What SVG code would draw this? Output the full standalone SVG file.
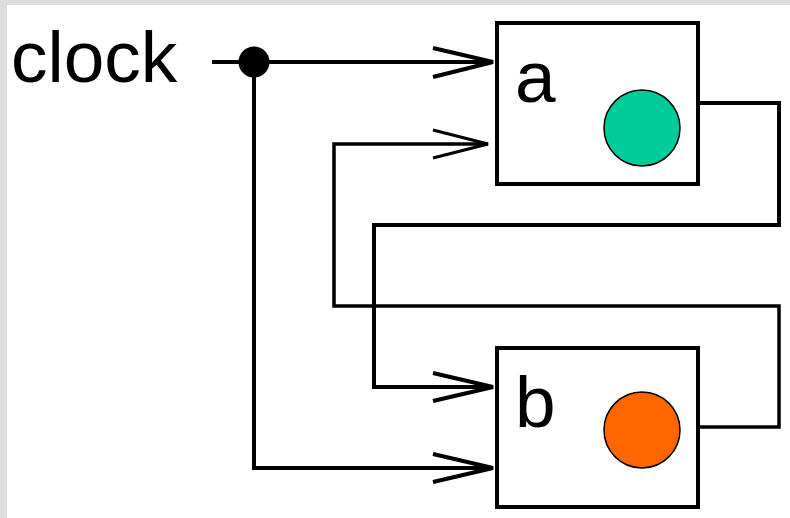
<svg xmlns="http://www.w3.org/2000/svg" width="790" height="518" viewBox="0 0 790 518">
<style>
.bg{fill:#dddddd}
.box{fill:#ffffff;stroke:#000;stroke-width:4}
.lbl{font-family:"Liberation Sans",Arial,sans-serif;font-size:73px;fill:#000}
.wire{fill:none;stroke:#000;stroke-width:4;stroke-linejoin:miter}
.arr{fill:none;stroke:#000;stroke-width:4;stroke-linecap:butt}
.arrthin{fill:none;stroke:#000;stroke-width:3;stroke-linecap:butt}
.state{stroke:#000;stroke-width:1.5}
</style>
<rect class="bg" x="0" y="0" width="790" height="518"/>
<rect x="7" y="5" width="783" height="513" fill="#ffffff"/>
<g id="clock">
<text class="lbl" x="11" y="82">clock</text>
</g>
<g id="connectors">
<path class="wire" d="M212,62 H493"/>
<circle cx="254" cy="62" r="15.5" fill="#000"/>
<path class="wire" d="M254,62 V468 H493"/>
<path class="wire" d="M698,103 H779 V225 H374 V387 H493"/>
<path class="wire" d="M698,427 H779 V306 H334 V144 H488" style="stroke-width:3.5"/>
<path class="arr" d="M433,48 L493,62 L433,77"/>
<path class="arrthin" d="M433,130 L488,144 L433,158"/>
<path class="arr" d="M433,373 L493,387 L433,401"/>
<path class="arr" d="M433,454 L493,468 L433,482"/>
</g>
<g id="a">
<rect class="box" x="497" y="23" width="201" height="161"/>
<text class="lbl" x="515" y="102">a</text>
<circle class="state" cx="642" cy="128" r="38" fill="#00cc99"/>
</g>
<g id="b">
<rect class="box" x="497" y="348" width="201" height="159"/>
<text class="lbl" x="515" y="427">b</text>
<circle class="state" cx="642" cy="430" r="38" fill="#ff6600"/>
</g>
</svg>
